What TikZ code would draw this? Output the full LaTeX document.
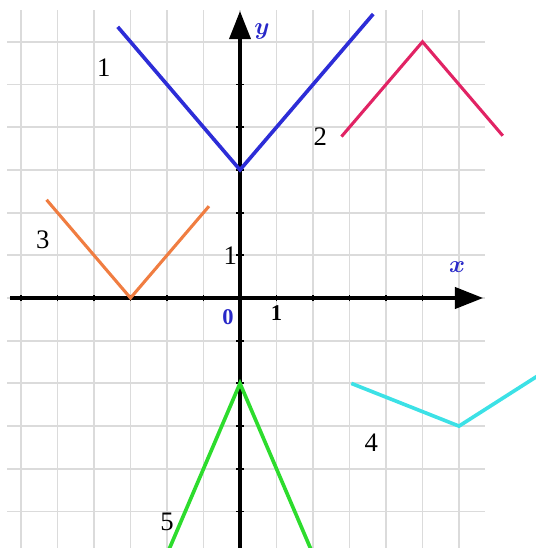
\documentclass[tikz,border=0pt]{standalone}
\usepackage{amsfonts,amssymb,amsmath}
\usepackage{xcolor}
\usepackage{fontspec}
\setmainfont{Liberation Serif}
\usetikzlibrary{arrows.meta}
\definecolor{lineone}{RGB}{45,45,215}
\definecolor{linetwo}{RGB}{225,35,100}
\definecolor{linethree}{RGB}{240,125,65}
\definecolor{linefour}{RGB}{60,225,230}
\definecolor{linefive}{RGB}{45,220,45}
\definecolor{axislabel}{RGB}{40,40,200}
\tikzset{
  gridline/.style={gray!28,line width=1.4pt},
  axisline/.style={->,line width=2.6pt},
  graph/.style={line width=2.6pt},
  numlabel/.style={font=\fontsize{19}{22}\selectfont},
  axislab/.style={axislabel,font=\fontsize{19}{22}\selectfont\bfseries\itshape}
}
\begin{document}
\begin{tikzpicture}[x=0.9125cm,y=1.0675cm,>={Triangle[length=20pt,width=15pt]}]
\useasboundingbox (-6cm,-6.25cm) rectangle (7.4cm,7.45cm);
% grid
\foreach \i in {-6,...,6}
  \draw[gridline](\i,-5.9)--(\i,6.74);
\foreach \j in {-5,...,6}
  \draw[gridline](-6.38,\j)--(6.7,\j);
% axes
\draw[axisline](-6.3,0)--(6.66,0);
\draw[axisline](0,-5.9)--(0,6.72);
\foreach \i in {-6,...,-1,1,2,...,5}
  \draw[line width=1.4pt](\i,-0.08)--(\i,0.08);
\foreach \j in {-5,...,-1,1,2,...,5}
  \draw[line width=1.4pt](-0.1,\j)--(0.1,\j);
\draw(5.95,0.72)node[axislab]{$\boldsymbol{x}$}
(0.6,6.25)node[axislab]{$\boldsymbol{y}$}
(-0.33,-0.45)node[axislab,font=\fontsize{16}{18}\selectfont\bfseries]{0}
(1,0)node[below,numlabel,font=\fontsize{16}{18}\selectfont\bfseries,inner sep=5pt]{1}
(0,1)node[left,numlabel,inner sep=2pt]{1};
% graphs
\coordinate (v1) at (0,3);
\coordinate (v2) at (5,6);
\coordinate (v3) at (-3,0);
\coordinate (v4) at (6,-3);
\coordinate (v5) at (0,-2);
\draw[graph,lineone](-3.35,6.35)--(v1)--(3.65,6.65);
\draw[graph,linetwo,line width=2.2pt](2.78,3.78)--(v2)--(7.2,3.8);
\draw[graph,linethree,line width=2.2pt](-5.3,2.3)--(v3)--(-0.85,2.15);
\draw[graph,linefour](3.05,-2)--(v4)--(8.2,-1.8);
\draw[graph,linefive](-1.95,-5.9)--(v5)--(1.95,-5.9);
% labels
\draw(-3.73,5.4)node[numlabel]{1}
(2.2,3.77)node[numlabel]{2}
(-5.4,1.36)node[numlabel]{3}
(3.6,-3.4)node[numlabel]{4}
(-2.0,-5.25)node[numlabel]{5};
\end{tikzpicture}
\end{document}
